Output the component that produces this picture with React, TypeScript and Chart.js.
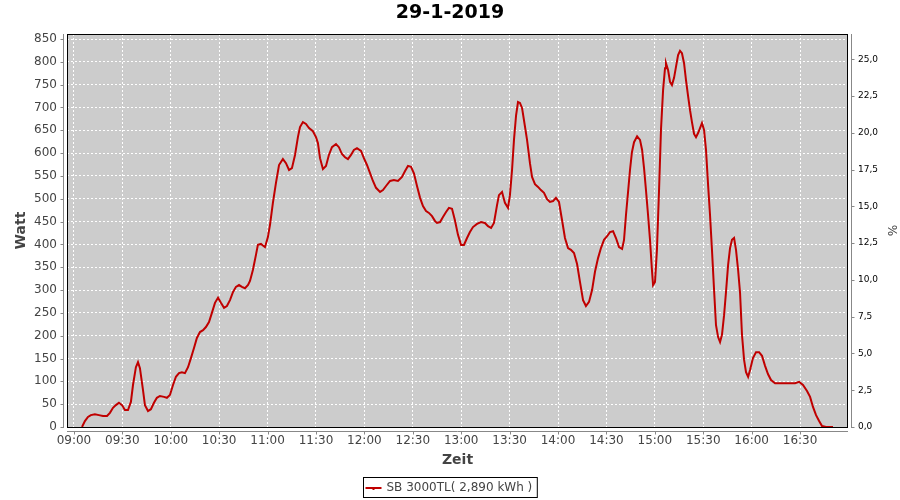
import React, { useEffect, useRef } from "react";
import { Chart, registerables } from "chart.js";

Chart.register(...registerables);

const TITLE = "29-1-2019";
const SERIES_LABEL = "SB 3000TL( 2,890 kWh )";
const X_TITLE = "Zeit";
const Y_TITLE = "Watt";
const Y1_TITLE = "%";

// time of each reading, minutes after midnight
const timeMin = [
  545.0, 546.8, 548.7, 550.5, 553.0, 555.5, 558.0, 560.5, 562.3, 564.2, 566.0, 567.9, 569.8, 571.6, 573.5,
  575.3, 576.6, 578.4, 579.7, 580.9, 582.8, 584.0, 585.9, 587.7, 589.6, 591.4, 593.3, 595.8, 597.6, 599.5,
  601.4, 603.2, 605.1, 606.9, 608.8, 610.7, 612.5, 614.4, 616.2, 618.1, 620.0, 621.8, 623.7, 625.5, 627.4,
  629.3, 631.1, 633.0, 634.8, 636.7, 638.6, 640.4, 642.3, 644.1, 646.0, 647.9, 649.1, 650.9, 652.8, 654.0,
  655.9, 658.4, 660.2, 661.5, 663.3, 665.2, 667.1, 669.5, 671.4, 673.3, 675.1, 677.0, 678.8, 680.1, 681.9,
  683.8, 685.7, 688.1, 690.0, 691.2, 692.5, 694.3, 696.2, 698.0, 699.9, 702.4, 704.2, 706.1, 708.0, 709.8,
  711.7, 713.5, 715.4, 717.9, 719.7, 721.6, 723.5, 725.3, 727.2, 729.7, 731.5, 733.4, 735.9, 738.3, 740.8,
  743.3, 745.2, 747.0, 748.9, 750.7, 752.6, 754.5, 756.3, 758.2, 760.0, 761.9, 763.8, 765.0, 766.9, 768.7,
  770.6, 772.4, 774.3, 776.1, 778.0, 779.9, 781.7, 783.6, 785.4, 787.3, 789.8, 792.3, 794.7, 796.6, 798.5,
  800.3, 802.2, 803.4, 805.3, 807.1, 809.0, 810.2, 811.5, 812.7, 814.0, 815.2, 816.4, 817.7, 818.9, 820.8,
  822.6, 823.9, 825.7, 827.6, 829.4, 831.3, 833.2, 835.0, 836.9, 838.7, 840.6, 842.5, 844.3, 846.2, 848.0,
  849.9, 851.8, 853.6, 855.5, 857.3, 859.2, 861.1, 862.9, 864.8, 866.6, 868.5, 870.4, 872.2, 874.1, 875.9,
  877.8, 879.7, 880.9, 882.1, 883.4, 884.6, 885.8, 887.1, 889.0, 890.8, 892.1, 893.3, 894.5, 895.8, 897.0,
  898.2, 898.9, 900.1, 901.3, 902.6, 903.8, 905.1, 906.3, 906.9, 908.2, 909.4, 910.6, 911.9, 913.1, 914.4,
  915.6, 916.8, 918.1, 919.3, 920.6, 921.8, 923.0, 924.3, 925.5, 926.8, 928.0, 929.2, 930.5, 931.7, 933.0,
  934.2, 935.4, 936.7, 937.9, 939.2, 940.4, 941.6, 942.9, 944.1, 945.4, 946.6, 947.8, 949.1, 950.3, 951.6,
  952.8, 954.0, 955.3, 956.5, 957.8, 959.0, 960.8, 962.7, 964.6, 966.4, 968.3, 970.1, 972.0, 974.5, 977.6,
  980.7, 983.8, 986.9, 989.4, 991.8, 994.3, 996.2, 998.0, 999.9, 1001.8, 1003.6, 1006.1, 1010.4,
];

// power in W at each reading
const watt = [
  0, 13, 22, 26, 28, 26, 24, 24, 31, 42, 48, 53, 48, 37, 37,
  55, 92, 131, 142, 129, 81, 48, 35, 39, 53, 64, 68, 66, 64, 70,
  92, 110, 118, 120, 118, 131, 151, 173, 195, 208, 212, 219, 230, 250, 272,
  283, 272, 261, 265, 278, 296, 307, 311, 307, 304, 311, 320, 344, 377, 399,
  401, 394, 416, 443, 491, 535, 574, 587, 578, 563, 567, 596, 635, 657, 668,
  664, 655, 648, 635, 622, 589, 565, 572, 596, 613, 620, 613, 598, 591, 587,
  596, 607, 611, 605, 589, 574, 556, 539, 524, 515, 519, 528, 539, 541, 539,
  548, 561, 572, 570, 556, 528, 502, 484, 473, 469, 462, 451, 447, 449, 460,
  471, 480, 478, 453, 421, 399, 399, 414, 427, 438, 445, 449, 447, 440, 436,
  447, 486, 508, 515, 491, 480, 508, 563, 629, 683, 712, 710, 699, 672, 629,
  578, 548, 532, 526, 519, 513, 499, 493, 495, 502, 493, 453, 414, 392, 388,
  381, 357, 318, 278, 265, 274, 300, 340, 370, 392, 410, 418, 427, 429, 414,
  394, 390, 410, 464, 515, 563, 602, 624, 637, 629, 607, 567, 519, 464, 410,
  344, 311, 318, 388, 519, 651, 738, 786, 797, 782, 756, 749, 765, 789, 815,
  824, 819, 797, 760, 725, 694, 668, 642, 635, 644, 655, 666, 651, 607, 530,
  464, 388, 300, 223, 197, 186, 202, 245, 296, 355, 392, 410, 414, 388, 344,
  294, 202, 147, 120, 110, 125, 151, 164, 164, 156, 134, 116, 103, 96, 96,
  96, 96, 96, 99, 92, 79, 66, 44, 26, 13, 2, 0, 0,
];

const xTickMinutes = [540, 570, 600, 630, 660, 690, 720, 750, 780, 810, 840, 870, 900, 930, 960, 990];
const wattTicks = [0, 50, 100, 150, 200, 250, 300, 350, 400, 450, 500, 550, 600, 650, 700, 750, 800, 850];
const pctTicks = [0, 2.5, 5, 7.5, 10, 12.5, 15, 17.5, 20, 22.5, 25];

const X_MIN = 535.7;
const X_MAX = 1019.7;
const W_MAX = 861;
const PCT_MAX = 26.72;

const FONT = "DejaVu Sans";
const LINE_COLOR = "#C00000";

function fmtTime(v: number) {
  const h = Math.floor(v / 60);
  const m = Math.round(v - h * 60);
  return String(h).padStart(2, "0") + ":" + String(m).padStart(2, "0");
}

const decorPlugin = {
  id: "decor",
  beforeDraw(chart: any) {
    const { ctx, chartArea: a, width, height } = chart;
    ctx.save();
    ctx.fillStyle = "#ffffff";
    ctx.fillRect(0, 0, width, height);
    ctx.fillStyle = "#CCCCCC";
    ctx.fillRect(a.left, a.top, a.right - a.left, a.bottom - a.top);
    ctx.restore();
  },
  afterDraw(chart: any) {
    const { ctx, chartArea: a, scales } = chart;
    ctx.save();
    // plot border
    ctx.strokeStyle = "#000000";
    ctx.lineWidth = 1;
    ctx.strokeRect(a.left + 0.5, a.top + 0.5, a.right - a.left - 1, a.bottom - a.top);
    // axis lines (offset) and tick marks
    ctx.strokeStyle = "#888888";
    ctx.beginPath();
    const lx = a.left - 3.5;
    ctx.moveTo(lx, a.top);
    ctx.lineTo(lx, a.bottom + 1);
    for (const v of wattTicks) {
      const y = Math.round(scales.y.getPixelForValue(v)) + 0.5;
      ctx.moveTo(lx - 3, y);
      ctx.lineTo(lx, y);
    }
    const rx = a.right + 3.5;
    ctx.moveTo(rx, a.top);
    ctx.lineTo(rx, a.bottom + 1);
    for (const v of pctTicks) {
      const y = Math.round(scales.y1.getPixelForValue(v)) + 0.5;
      ctx.moveTo(rx, y);
      ctx.lineTo(rx + 3, y);
    }
    const by = a.bottom + 4.5;
    ctx.moveTo(a.left, by);
    ctx.lineTo(a.right, by);
    for (const v of xTickMinutes) {
      const x = Math.round(scales.x.getPixelForValue(v)) + 0.5;
      ctx.moveTo(x, by);
      ctx.lineTo(x, by + 3);
    }
    ctx.stroke();

    // title
    ctx.fillStyle = "#000000";
    ctx.font = `bold 19px "${FONT}"`;
    ctx.textAlign = "center";
    ctx.textBaseline = "middle";
    ctx.fillText(TITLE, 450, 13);

    // legend
    ctx.font = `12px "${FONT}"`;
    const tw = ctx.measureText(SERIES_LABEL).width;
    const boxW = tw + 28;
    const bx = Math.round(450 - boxW / 2) + 0.5;
    const byy = 477.5;
    ctx.strokeStyle = "#000000";
    ctx.lineWidth = 1;
    ctx.strokeRect(bx, byy, boxW, 20);
    ctx.strokeStyle = LINE_COLOR;
    ctx.lineWidth = 2;
    ctx.beginPath();
    ctx.moveTo(bx + 2, 488);
    ctx.lineTo(bx + 18, 488);
    ctx.stroke();
    ctx.fillStyle = LINE_COLOR;
    ctx.fillRect(bx + 9, 488, 2, 2);
    ctx.fillStyle = "#444444";
    ctx.textAlign = "left";
    ctx.fillText(SERIES_LABEL, bx + 23, 488);
    ctx.restore();
  },
};

export default function App() {
  const ref = useRef<HTMLCanvasElement | null>(null);
  useEffect(() => {
    if (!ref.current) return;
    const points = timeMin.map((t, i) => ({ x: t, y: watt[i] }));
    const chart = new Chart(ref.current, {
      type: "line",
      data: {
        datasets: [
          {
            label: SERIES_LABEL,
            data: points,
            borderColor: LINE_COLOR,
            backgroundColor: LINE_COLOR,
            borderWidth: 2,
            pointRadius: 0,
            tension: 0,
            yAxisID: "y",
          },
        ],
      },
      options: {
        animation: false,
        responsive: false,
        devicePixelRatio: 1,
        layout: { padding: { top: 34, left: 0, right: 0, bottom: 0 } },
        plugins: {
          legend: { display: false },
          title: { display: false },
          tooltip: { enabled: false },
        },
        scales: {
          x: {
            type: "linear",
            min: X_MIN,
            max: X_MAX,
            afterBuildTicks: (s: any) => {
              s.ticks = xTickMinutes.map((v) => ({ value: v }));
            },
            afterFit: (s: any) => {
              s.height = 73;
            },
            ticks: {
              callback: (v: any) => fmtTime(Number(v)),
              color: "#444444",
              font: { family: FONT, size: 12 },
              padding: 7,
              maxRotation: 0,
              autoSkip: false,
            },
            grid: { color: "#ffffff", lineWidth: 1, drawTicks: false },
            border: { display: false, dash: [2, 2] },
            title: {
              display: true,
              text: X_TITLE,
              color: "#444444",
              font: { family: FONT, size: 14, weight: "bold" },
              padding: { top: 0, bottom: 31 },
            },
          },
          y: {
            type: "linear",
            position: "left",
            min: 0,
            max: W_MAX,
            afterBuildTicks: (s: any) => {
              s.ticks = wattTicks.map((v) => ({ value: v }));
            },
            afterFit: (s: any) => {
              s.width = 67;
            },
            ticks: {
              color: "#444444",
              font: { family: FONT, size: 12 },
              padding: 10,
              autoSkip: false,
            },
            grid: { color: "#ffffff", lineWidth: 1, drawTicks: false },
            border: { display: false, dash: [2, 2] },
            title: {
              display: true,
              text: Y_TITLE,
              color: "#444444",
              font: { family: FONT, size: 14, weight: "bold" },
              padding: { top: 13, bottom: 0 },
            },
          },
          y1: {
            type: "linear",
            position: "right",
            min: 0,
            max: PCT_MAX,
            afterBuildTicks: (s: any) => {
              s.ticks = pctTicks.map((v) => ({ value: v }));
            },
            afterFit: (s: any) => {
              s.width = 52;
            },
            ticks: {
              color: "#000000",
              font: { family: FONT, size: 9 },
              padding: 10,
              autoSkip: false,
              callback: (v: any) => Number(v).toFixed(1).replace(".", ","),
            },
            grid: { display: false, drawTicks: false },
            border: { display: false },
            title: {
              display: true,
              text: Y1_TITLE,
              color: "#444444",
              font: { family: FONT, size: 12 },
              padding: { top: 2, bottom: 0 },
            },
          },
        },
      } as any,
      plugins: [decorPlugin],
    });
    return () => chart.destroy();
  }, []);
  return (
    <div style={{ position: "absolute", left: 0, top: 0, width: 900, height: 500 }}>
      <canvas ref={ref} width={900} height={500} style={{ width: 900, height: 500 }} />
    </div>
  );
}
